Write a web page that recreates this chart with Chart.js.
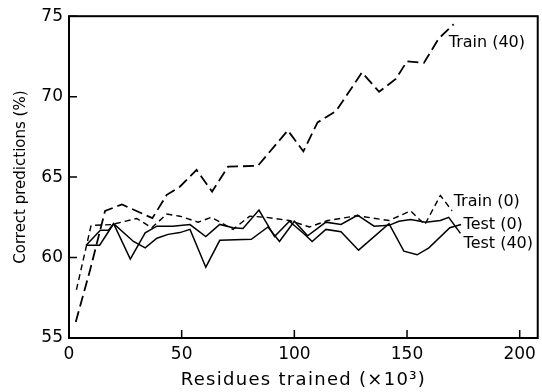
<!DOCTYPE html>
<html lang="en">
<head>
  <meta charset="UTF-8">
  <title>Correct predictions vs residues trained</title>
  <script src="https://cdn.jsdelivr.net/npm/chart.js"></script>
  <style>
    * {
      margin: 0;
      padding: 0;
    }

    body {
      background-color: #fff;
    }

    #chart {
      display: block;
    }
  </style>
</head>
<body>
<canvas id="chart" width="542" height="392"></canvas>

<script>
  // residues trained (x10^3) and percent correct for each run
  const train40X = [3, 9.5, 16, 23.5, 37, 43.4, 49.2, 56.6, 63.5, 70.6, 83.8, 97.1, 104, 110.3, 118.5, 130, 137.6, 145, 150, 157.5, 164, 170.7];
  const train40Y = [56.0, 59.3, 62.9, 63.3, 62.45, 63.9, 64.4, 65.45, 64.1, 65.65, 65.7, 67.9, 66.6, 68.4, 69.1, 71.5, 70.3, 71.1, 72.2, 72.1, 73.6, 74.5];

  const train0X = [3.3, 9.8, 19, 30.1, 36.7, 43.4, 49.2, 57.3, 63.2, 72.8, 80.2, 87.5, 97.8, 106.7, 114.8, 128, 142, 151.6, 157.9, 164.8, 170];
  const train0Y = [58.0, 62.0, 62.05, 62.43, 61.85, 62.7, 62.57, 62.2, 62.5, 61.75, 62.57, 62.5, 62.3, 61.9, 62.3, 62.6, 62.3, 62.9, 62.05, 63.86, 62.9];

  const test0X = [7.6, 13.9, 17.5, 19.8, 27.2, 33.8, 39, 46, 53.7, 60.7, 66.9, 72.8, 77.2, 84.3, 91.2, 97.8, 104.5, 107.9, 114, 120.7, 128.5, 142, 148.6, 154.5, 159.7, 169, 174];
  const test0Y = [60.77, 61.7, 61.7, 62.1, 59.9, 61.54, 61.95, 61.95, 62.05, 61.3, 62.06, 61.85, 61.8, 62.95, 61.3, 62.26, 61.45, 61.0, 61.75, 61.6, 60.46, 62.1, 60.4, 60.17, 60.6, 61.85, 62.05];

  const test40X = [7.6, 13.6, 19.8, 28.6, 33.8, 39, 44, 49.2, 53.7, 60.7, 66.9, 80.9, 88.3, 93.4, 100, 105.9, 114, 120.7, 128, 135.4, 142, 146.4, 151.6, 158.2, 164.8, 168.5, 173.7];
  const test40Y = [60.77, 60.77, 62.1, 61.0, 60.6, 61.2, 61.44, 61.55, 61.75, 59.4, 61.07, 61.13, 61.9, 61.0, 62.26, 61.35, 62.2, 62.06, 62.63, 61.95, 62.0, 62.26, 62.37, 62.2, 62.3, 62.5, 61.5];

  // curve names written next to the line ends, placed in data units
  const curveNames = ['Train (40)', 'Train (0)', 'Test (0)', 'Test (40)'];
  const nameX = [168.5, 170.7, 175.1, 175.1];
  const nameY = [73.34, 63.49, 62.06, 60.83];

  const FONT = 'DejaVu Sans';

  function pts(xs, ys) {
    return xs.map((x, i) => ({x: x, y: ys[i]}));
  }

  function curve(label, xs, ys, width, dash) {
    return {
      label: label,
      data: pts(xs, ys),
      borderColor: '#000',
      borderWidth: width,
      borderDash: dash,
      pointRadius: 0,
      tension: 0,
      fill: false
    };
  }

  // box round the plot, inward tick marks and the curve names
  const frame = {
    id: 'frame',
    afterDraw(chart) {
      const {ctx, chartArea: a, scales: {x, y}} = chart;
      ctx.save();
      ctx.strokeStyle = '#000';
      ctx.lineWidth = 2;
      ctx.strokeRect(a.left, a.top, a.right - a.left, a.bottom - a.top);

      ctx.beginPath();
      x.ticks.forEach(t => {
        const px = x.getPixelForValue(t.value);
        ctx.moveTo(px, a.bottom);
        ctx.lineTo(px, a.bottom - 8);
      });
      y.ticks.forEach(t => {
        const py = y.getPixelForValue(t.value);
        ctx.moveTo(a.left, py);
        ctx.lineTo(a.left + 8, py);
      });
      ctx.lineWidth = 1.5;
      ctx.stroke();

      ctx.fillStyle = '#000';
      ctx.font = '16px "' + FONT + '"';
      ctx.textAlign = 'left';
      ctx.textBaseline = 'middle';
      curveNames.forEach((name, i) => {
        ctx.fillText(name, x.getPixelForValue(nameX[i]), y.getPixelForValue(nameY[i]));
      });
      ctx.restore();
    }
  };

  // the x axis title is set with a little extra letter spacing
  const spacedTitle = {
    id: 'spacedTitle',
    beforeDraw(chart) {
      const sc = chart.scales.x;
      if (sc._spaced) return;
      const draw = sc.drawTitle;
      sc.drawTitle = function () {
        this.ctx.save();
        this.ctx.letterSpacing = '1.3px';
        draw.call(this);
        this.ctx.restore();
      };
      sc._spaced = true;
    }
  };

  new Chart(document.getElementById('chart'), {
    type: 'line',
    data: {
      datasets: [
        curve('Train (40)', train40X, train40Y, 1.8, [11, 5]),
        curve('Train (0)', train0X, train0Y, 1.4, [6, 4]),
        curve('Test (0)', test0X, test0Y, 1.5, []),
        curve('Test (40)', test40X, test40Y, 1.5, [])
      ]
    },
    options: {
      responsive: false,
      animation: false,
      devicePixelRatio: 1,
      layout: {padding: {top: 13, right: 2, left: 0, bottom: 0}},
      plugins: {
        legend: {display: false},
        tooltip: {enabled: false}
      },
      scales: {
        x: {
          type: 'linear',
          min: 0,
          max: 208,
          grid: {display: false, drawTicks: false},
          border: {display: false},
          ticks: {
            stepSize: 50,
            includeBounds: false,
            padding: 6,
            color: '#000',
            font: {family: FONT, size: 17}
          },
          title: {
            display: true,
            text: 'Residues trained (×10³)',
            color: '#000',
            font: {family: FONT, size: 18},
            padding: {top: 0, bottom: 1}
          },
          afterFit(scale) {
            scale.height = 54;
          }
        },
        y: {
          min: 55,
          max: 75,
          grid: {display: false, drawTicks: false},
          border: {display: false},
          ticks: {
            stepSize: 5,
            padding: 6,
            color: '#000',
            font: {family: FONT, size: 17}
          },
          title: {
            display: true,
            text: 'Correct predictions (%)',
            color: '#000',
            font: {family: FONT, size: 15},
            padding: {top: 12, bottom: 0}
          },
          afterFit(scale) {
            scale.width = 69;
          }
        }
      }
    },
    plugins: [frame, spacedTitle]
  });
</script>
</body>
</html>
